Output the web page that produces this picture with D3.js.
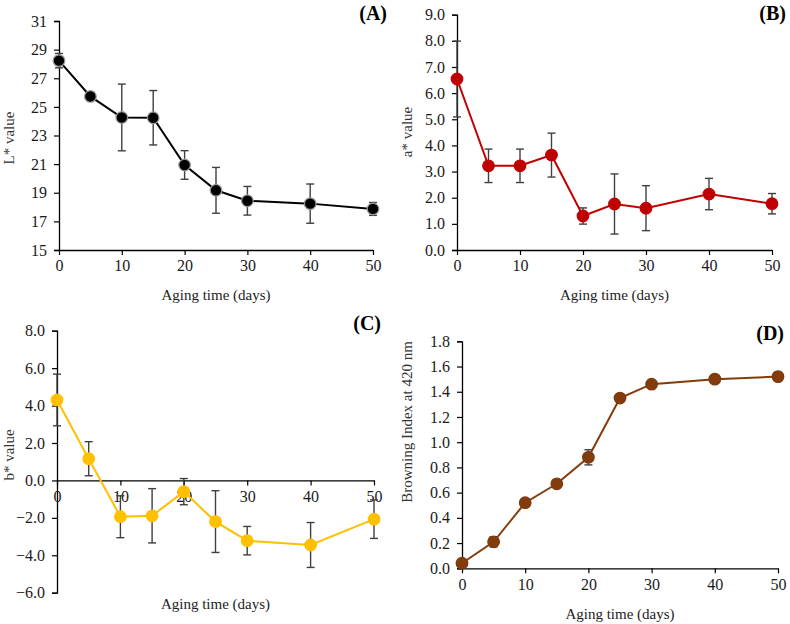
<!DOCTYPE html>
<html>
<head>
<meta charset="utf-8">
<script src="https://cdn.jsdelivr.net/npm/d3@7"></script>
<style>
  body { margin: 0; background: #fff; }
  svg text { font-family: "Liberation Serif", "Times New Roman", serif; }
</style>
</head>
<body>
<svg id="chart" width="790" height="624"></svg>
<script>
// Aging time (days), shared by all panels
var days = [0, 5, 10, 15, 20, 25, 30, 40, 50];

// (A) L* value
var lValues = [28.23, 25.73, 24.26, 24.24, 20.94, 19.17, 18.44, 18.24, 17.87];
var lErrors = [0.5, 0.3, 2.33, 1.9, 1.0, 1.6, 1.0, 1.37, 0.45];
var lTicks = [15, 17, 19, 21, 23, 25, 27, 29, 31];

// (B) a* value
var aValues = [6.54, 3.22, 3.22, 3.63, 1.3, 1.76, 1.6, 2.14, 1.77];
var aErrors = [1.45, 0.64, 0.64, 0.84, 0.31, 1.15, 0.86, 0.6, 0.39];
var aTicks = [0, 1, 2, 3, 4, 5, 6, 7, 8, 9];

// (C) b* value
var bValues = [4.3, 1.16, -1.94, -1.89, -0.6, -2.2, -3.22, -3.45, -2.07];
var bErrors = [1.38, 0.91, 1.12, 1.45, 0.7, 1.65, 0.76, 1.2, 1.03];
var bTicks = [-6, -4, -2, 0, 2, 4, 6, 8];

// (D) Browning index at 420 nm
var biValues = [0.04, 0.21, 0.52, 0.67, 0.88, 1.35, 1.46, 1.5, 1.52];
var biErrors = [0.02, 0.04, 0.02, 0.03, 0.06, 0.02, 0.02, 0.01, 0.01];
var biTicks = [0, 0.2, 0.4, 0.6, 0.8, 1.0, 1.2, 1.4, 1.6, 1.8];

var xTicks = [0, 10, 20, 30, 40, 50];

var svg = d3.select('#chart');

function drawPanel(p) {
    var g = svg.append('g');
    var x = d3.scaleLinear().domain([0, 50]).range([p.left, p.right]);
    var y = d3.scaleLinear().domain(p.yDomain).range([p.bottom, p.top]);
    var xAxisY = y(p.xAxisAt);

    // y axis
    var yAxis = g.append('g')
        .attr('transform', 'translate(' + p.left + ',0)')
        .call(d3.axisLeft(y).tickValues(p.yTicks).tickSize(5).tickPadding(7)
            .tickFormat(d3.format(p.fmt)));
    yAxis.select('.domain').attr('stroke', '#000').attr('stroke-width', 1.3);
    yAxis.selectAll('.tick line').attr('stroke', '#000').attr('stroke-width', 1.2);
    yAxis.selectAll('.tick text').attr('font-size', 16).attr('fill', '#1a1a1a');

    // x axis
    var xAxis = g.append('g')
        .attr('transform', 'translate(0,' + xAxisY + ')')
        .call(d3.axisBottom(x).tickValues(xTicks).tickSize(5).tickSizeOuter(0).tickPadding(5));
    xAxis.select('.domain').attr('stroke', '#000').attr('stroke-width', 1.3);
    xAxis.selectAll('.tick line').attr('stroke', '#000').attr('stroke-width', 1.2);
    xAxis.selectAll('.tick text').attr('font-size', 16).attr('fill', '#1a1a1a');

    // titles
    g.append('text')
        .attr('x', (p.left + p.right) / 2)
        .attr('y', p.xTitleY)
        .attr('text-anchor', 'middle')
        .attr('font-size', 15)
        .attr('fill', '#222')
        .text('Aging time (days)');
    g.append('text')
        .attr('transform', 'translate(' + p.yTitleX + ',' + p.yTitleY + ') rotate(-90)')
        .attr('text-anchor', 'middle')
        .attr('font-size', 15)
        .attr('fill', '#333')
        .text(p.yTitle);
    g.append('text')
        .attr('x', p.labelX)
        .attr('y', p.labelY)
        .attr('text-anchor', 'end')
        .attr('font-size', 20)
        .attr('font-weight', 'bold')
        .attr('fill', '#000')
        .text(p.label);

    var rows = days.map(function(d, i) {
        return { day: d, v: p.values[i], e: p.errors[i] };
    });

    // error bars
    var eb = g.append('g').attr('stroke', '#404040').attr('stroke-width', 1.4);
    eb.selectAll('line.stem').data(rows).enter().append('line')
        .attr('x1', function(d) { return x(d.day); })
        .attr('x2', function(d) { return x(d.day); })
        .attr('y1', function(d) { return y(d.v - d.e); })
        .attr('y2', function(d) { return y(d.v + d.e); });
    [-1, 1].forEach(function(s) {
        eb.selectAll('line.cap' + s).data(rows).enter().append('line')
            .attr('x1', function(d) { return x(d.day) - 4; })
            .attr('x2', function(d) { return x(d.day) + 4; })
            .attr('y1', function(d) { return y(d.v + s * d.e); })
            .attr('y2', function(d) { return y(d.v + s * d.e); });
    });

    // line + markers
    var line = d3.line()
        .x(function(d) { return x(d.day); })
        .y(function(d) { return y(d.v); });
    g.append('path').datum(rows)
        .attr('d', line)
        .attr('fill', 'none')
        .attr('stroke', p.color)
        .attr('stroke-width', 2);
    g.selectAll('circle.pt').data(rows).enter().append('circle')
        .attr('cx', function(d) { return x(d.day); })
        .attr('cy', function(d) { return y(d.v); })
        .attr('r', 5.8)
        .attr('fill', p.color)
        .attr('stroke', p.markerStroke)
        .attr('stroke-width', 1.2);
}

drawPanel({
    left: 59, right: 373, top: 21, bottom: 250,
    yDomain: [15, 31], yTicks: lTicks, fmt: 'd', xAxisAt: 15,
    values: lValues, errors: lErrors,
    color: '#000', markerStroke: '#999',
    yTitle: 'L* value', yTitleX: 14, yTitleY: 138,
    xTitleY: 300, label: '(A)', labelX: 387, labelY: 20
});

drawPanel({
    left: 457, right: 772, top: 14.7, bottom: 250,
    yDomain: [0, 9], yTicks: aTicks, fmt: '.1f', xAxisAt: 0,
    values: aValues, errors: aErrors,
    color: '#C00000', markerStroke: '#C00000',
    yTitle: 'a* value', yTitleX: 412, yTitleY: 132,
    xTitleY: 300, label: '(B)', labelX: 786, labelY: 20
});

drawPanel({
    left: 57, right: 374, top: 330.7, bottom: 592.7,
    yDomain: [-6, 8], yTicks: bTicks, fmt: '.1f', xAxisAt: 0,
    values: bValues, errors: bErrors,
    color: '#FFC000', markerStroke: '#FFC000',
    yTitle: 'b* value', yTitleX: 14, yTitleY: 455,
    xTitleY: 609, label: '(C)', labelX: 381, labelY: 330
});

drawPanel({
    left: 462, right: 778, top: 341.3, bottom: 568.3,
    yDomain: [0, 1.8], yTicks: biTicks, fmt: '.1f', xAxisAt: 0,
    values: biValues, errors: biErrors,
    color: '#843C0C', markerStroke: '#7a3a10',
    yTitle: 'Browning Index at 420 nm', yTitleX: 412, yTitleY: 422,
    xTitleY: 619, label: '(D)', labelX: 784, labelY: 340
});
</script>
</body>
</html>
